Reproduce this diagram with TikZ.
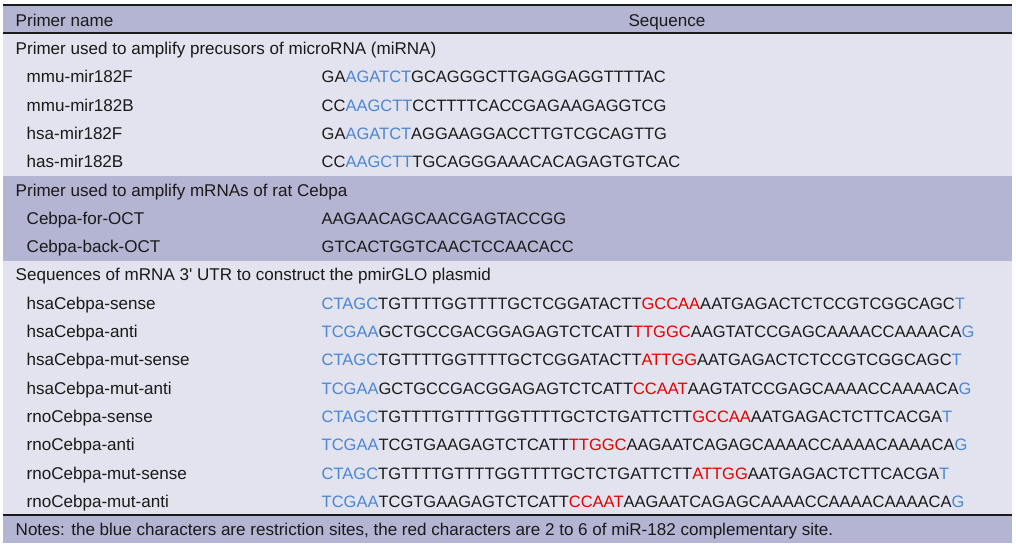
\documentclass[tikz,border=0pt]{standalone}
\usepackage{fontspec}
\setmainfont{Liberation Sans}
\definecolor{hdr}{RGB}{179,181,211}
\definecolor{lite}{RGB}{226,227,238}
\definecolor{sblue}{RGB}{74,134,212}
\definecolor{sred}{RGB}{232,0,0}
\definecolor{ink}{RGB}{26,26,26}
\newcommand{\bl}[1]{\textcolor{sblue}{#1}}
\newcommand{\rd}[1]{\textcolor{sred}{#1}}
\begin{document}
\begin{tikzpicture}[x=1pt,y=-1pt,
  txt/.style={anchor=base west, inner sep=0pt, text=ink, font=\fontsize{17.05}{19}\selectfont},
  seq/.style={anchor=base west, inner sep=0pt, text=ink, font=\fontsize{16.5}{19}\selectfont},
  ctr/.style={anchor=base, inner sep=0pt, text=ink, font=\fontsize{17.05}{19}\selectfont},
  rule/.style={draw=ink, line width=1.4pt}]
\useasboundingbox (0,0) rectangle (1016,548);
% bands
\fill[hdr]  (3,5) rectangle (1012,33);
\fill[lite] (3,33) rectangle (1012,176);
\fill[hdr]  (3,176) rectangle (1012,260.7);
\fill[lite] (3,260.7) rectangle (1012,515);
\fill[hdr]  (3,515) rectangle (1012,543);
\draw[rule] (3,5) -- (1012,5);
\draw[rule] (3,33) -- (1012,33);
\draw[rule] (3,515) -- (1012,515);
% header
\node[txt] (h1) at (15.5,26.2) {Primer name};
\node[ctr] (h2) at (667,26.2) {Sequence};
% section 1
\node[txt] (s1) at (15.5,54.5) {Primer used to amplify precusors of microRNA (miRNA)};
\node[txt] (n1) at (26.5,82.8) {mmu-mir182F};
\node[seq] (q1) at (321.5,82.8) {GA\bl{AGATCT}GCAGGGCTTGAGGAGGTTTTAC};
\node[txt] (n2) at (26.5,111.1) {mmu-mir182B};
\node[seq] (q2) at (321.5,111.1) {CC\bl{AAGCTT}CCTTTTCACCGAGAAGAGGTCG};
\node[txt] (n3) at (26.5,139.4) {hsa-mir182F};
\node[seq] (q3) at (321.5,139.4) {GA\bl{AGATCT}AGGAAGGACCTTGTCGCAGTTG};
\node[txt] (n4) at (26.5,167.7) {has-mir182B};
\node[seq] (q4) at (321.5,167.7) {CC\bl{AAGCTT}TGCAGGGAAACACAGAGTGTCAC};
% section 2
\node[txt] (s2) at (15.5,196) {Primer used to amplify mRNAs of rat Cebpa};
\node[txt] (n5) at (26.5,224.3) {Cebpa-for-OCT};
\node[seq] (q5) at (321.5,224.3) {AAGAACAGCAACGAGTACCGG};
\node[txt] (n6) at (26.5,252.6) {Cebpa-back-OCT};
\node[seq] (q6) at (321.5,252.6) {GTCACTGGTCAACTCCAACACC};
% section 3
\node[txt] (s3) at (15.5,280.9) {Sequences of mRNA 3\textquotesingle{} UTR to construct the pmirGLO plasmid};
\node[txt] (n7) at (26.5,309.2) {hsaCebpa-sense};
\node[seq] (q7) at (321.5,309.2) {\bl{CTAGC}TGTTTTGGTTTTGCTCGGATACTT\rd{GCCAA}AATGAGACTCTCCGTCGGCAGC\bl{T}};
\node[txt] (n8) at (26.5,337.5) {hsaCebpa-anti};
\node[seq] (q8) at (321.5,337.5) {\bl{TCGAA}GCTGCCGACGGAGAGTCTCATT\rd{TTGGC}AAGTATCCGAGCAAAACCAAAACA\bl{G}};
\node[txt] (n9) at (26.5,365.8) {hsaCebpa-mut-sense};
\node[seq] (q9) at (321.5,365.8) {\bl{CTAGC}TGTTTTGGTTTTGCTCGGATACTT\rd{ATTGG}AATGAGACTCTCCGTCGGCAGC\bl{T}};
\node[txt] (n10) at (26.5,394.1) {hsaCebpa-mut-anti};
\node[seq] (q10) at (321.5,394.1) {\bl{TCGAA}GCTGCCGACGGAGAGTCTCATT\rd{CCAAT}AAGTATCCGAGCAAAACCAAAACA\bl{G}};
\node[txt] (n11) at (26.5,422.4) {rnoCebpa-sense};
\node[seq] (q11) at (321.5,422.4) {\bl{CTAGC}TGTTTTGTTTTGGTTTTGCTCTGATTCTT\rd{GCCAA}AATGAGACTCTTCACGA\bl{T}};
\node[txt] (n12) at (26.5,450.7) {rnoCebpa-anti};
\node[seq] (q12) at (321.5,450.7) {\bl{TCGAA}TCGTGAAGAGTCTCATT\rd{TTGGC}AAGAATCAGAGCAAAACCAAAACAAAACA\bl{G}};
\node[txt] (n13) at (26.5,479) {rnoCebpa-mut-sense};
\node[seq] (q13) at (321.5,479) {\bl{CTAGC}TGTTTTGTTTTGGTTTTGCTCTGATTCTT\rd{ATTGG}AATGAGACTCTTCACGA\bl{T}};
\node[txt] (n14) at (26.5,507.3) {rnoCebpa-mut-anti};
\node[seq] (q14) at (321.5,507.3) {\bl{TCGAA}TCGTGAAGAGTCTCATT\rd{CCAAT}AAGAATCAGAGCAAAACCAAAACAAAACA\bl{G}};
% notes
\node[txt] (nt) at (15.5,535.6) {Notes: the blue characters are restriction sites, the red characters are 2 to 6 of miR-182 complementary site.};
\end{tikzpicture}
\end{document}
